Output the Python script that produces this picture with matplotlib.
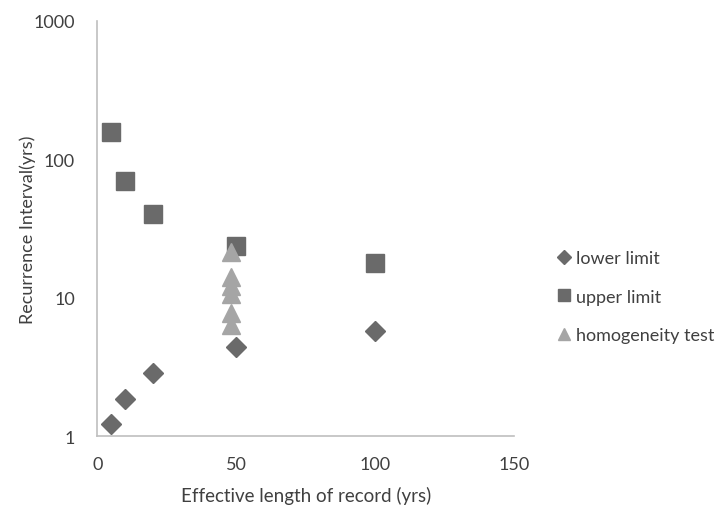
import matplotlib
matplotlib.use("Agg")
import matplotlib.pyplot as plt

plt.rcParams['font.family'] = ['Lato', 'DejaVu Sans']

# données
lower_x = [5, 10, 20, 50, 100]
lower_y = [1.22, 1.85, 2.86, 4.4, 5.75]

upper_x = [5, 10, 20, 50, 100]
upper_y = [158, 70, 40, 23.5, 17.8]

homog_x = [48, 48, 48, 48, 48, 48]
homog_y = [21.5, 14.0, 12.2, 10.6, 7.7, 6.3]

x_ticks = [0, 50, 100, 150]
y_ticks = [1, 10, 100, 1000]

dark = '#6a6a6a'
light = '#a5a5a5'
axis_col = '#bfbfbf'

fig = plt.figure(figsize=(7.2, 5.06), dpi=100)
ax = fig.add_axes([0.135, 0.136, 0.579, 0.821])

ax.plot(lower_x, lower_y, linestyle='none', marker='D', markersize=10,
        color=dark, label='lower limit')
ax.plot(upper_x, upper_y, linestyle='none', marker='s', markersize=12.5,
        color=dark, label='upper limit')
ax.plot(homog_x, homog_y, linestyle='none', marker='^', markersize=13,
        color=light, label='homogeneity test')

ax.set_yscale('log')
ax.set_xlim(0, 150)
ax.set_ylim(1, 1000)
ax.set_xticks(x_ticks)
ax.set_xticklabels([str(v) for v in x_ticks])
ax.set_yticks(y_ticks)
ax.set_yticklabels([str(v) for v in y_ticks])
ax.minorticks_off()
ax.tick_params(length=0, labelsize=13, colors='#404040', pad=14)
ax.tick_params(axis='y', pad=16)

for s in ['top', 'right']:
    ax.spines[s].set_visible(False)
for s in ['left', 'bottom']:
    ax.spines[s].set_color(axis_col)
    ax.spines[s].set_linewidth(1.2)

ax.set_xlabel('Effective length of record (yrs)', fontsize=13.5, color='#404040', labelpad=10)
ax.set_ylabel('Recurrence Interval(yrs)', fontsize=13, color='#404040', labelpad=-2)

leg = fig.legend(loc='center left', bbox_to_anchor=(0.752, 0.412), frameon=False,
                 fontsize=13, handlelength=0.7, handletextpad=0.3,
                 labelspacing=1.25, markerscale=0.68)
for t in leg.get_texts():
    t.set_color('#404040')

fig.savefig('out.png', dpi=100)
